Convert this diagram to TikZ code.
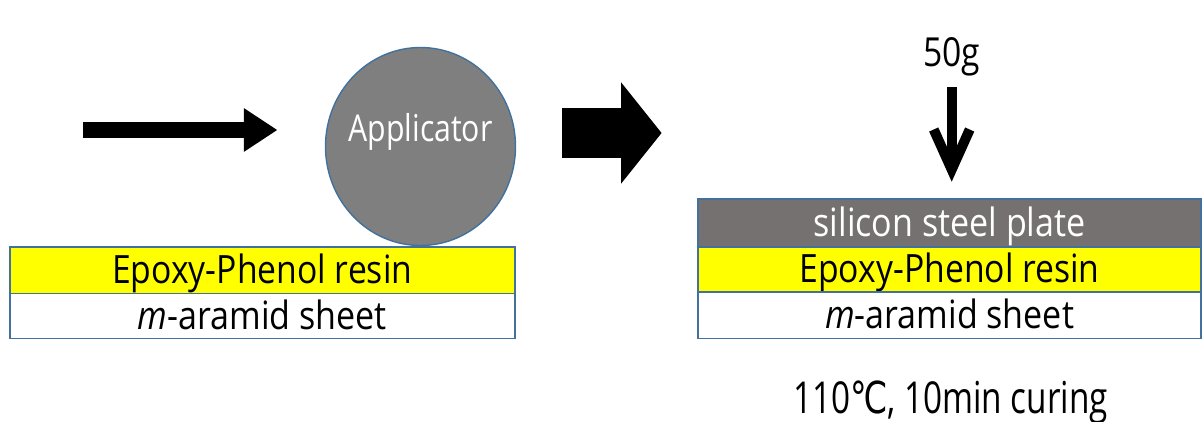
\documentclass[tikz,border=0pt]{standalone}
\usepackage{fontspec}
\setmainfont{Open Sans}
\newfontfamily\symfont{DejaVu Sans}
\usetikzlibrary{arrows.meta,shapes.geometric}
\definecolor{edge}{HTML}{41719C}
\definecolor{ballgray}{HTML}{7F7F7F}
\definecolor{plategray}{HTML}{767171}
\definecolor{resin}{HTML}{FFFF00}
% set a label at its natural height, stretched or squeezed to a given width
\newcommand{\fitw}[2]{\resizebox{#1}{\height}{#2}}
\begin{document}
\begin{tikzpicture}[x=1pt,y=-1pt,
  layer/.style={draw=edge, line width=1.6pt, inner sep=0pt, outer sep=0pt,
    minimum height=46pt, text height=27pt, text depth=0pt,
    font=\fontsize{39}{46}\selectfont},
  leftlayer/.style={layer, minimum width=505pt},
  rightlayer/.style={layer, minimum width=503pt}
]
\useasboundingbox (0,0) rectangle (1204,422);

% roller (label kept zero-width so the ellipse keeps its own size)
\node[ellipse, fill=ballgray, draw=edge, line width=1.4pt, inner sep=0pt,
  minimum width=190pt, minimum height=198pt, text=white,
  text height=0pt, text depth=10pt, font=\fontsize{37}{44}\selectfont]
  (roller) at (420.5,146.5) {\makebox[0pt]{\fitw{144pt}{Applicator}}};

% coated sheet before curing
\node[leftlayer, fill=resin, minimum height=46.6pt] (resinL) at (262.2,270) {\fitw{300pt}{Epoxy-Phenol resin}};
\node[leftlayer, fill=white, minimum height=45pt] (aramidL) at (262.2,315.8) {\fitw{249pt}{\textit{m}-aramid sheet}};

% pressed stack
\node[rightlayer, fill=plategray, text=white, minimum height=47.7pt] (plate) at (949.6,222.9) {\fitw{272pt}{silicon steel plate}};
\node[rightlayer, fill=resin, minimum height=45pt] (resinR) at (949.6,269.2) {\fitw{300pt}{Epoxy-Phenol resin}};
\node[rightlayer, fill=white, minimum height=46.6pt] (aramidR) at (949.6,315) {\fitw{249pt}{\textit{m}-aramid sheet}};

% load and curing labels
\node[anchor=base, inner sep=0pt, font=\fontsize{40}{48}\selectfont] (load) at (951.5,66.7) {\fitw{57pt}{50g}};
\node[anchor=base, inner sep=0pt, font=\fontsize{44}{52}\selectfont] (cure) at (950.5,413.3) {\fitw{315pt}{110{\symfont ℃}, 10min curing}};

% arrows
\coordinate (pushS) at (83,130);
\coordinate (pushE) at (277.5,130);
\draw[line width=15.6pt, -{Triangle[length=33.7pt,width=41.4pt]}] (pushS) -- (pushE);

\coordinate (stepS) at (562,133);
\coordinate (stepE) at (661.6,133);
\draw[line width=50pt, -{Triangle[length=40.6pt,width=99.4pt]}] (stepS) -- (stepE);

\coordinate (loadS) at (951.7,86.7);
\coordinate (loadE) at (951.7,181.7);
\draw[line width=10pt, -{Straight Barb[length=40pt,width=36pt]}] (loadS) -- (loadE);
\end{tikzpicture}
\end{document}
